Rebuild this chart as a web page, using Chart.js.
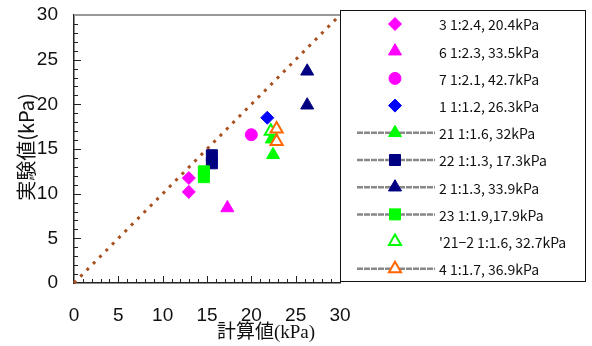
<!DOCTYPE html>
<html>
<head>
<meta charset="utf-8">
<script src="https://cdn.jsdelivr.net/npm/chart.js"></script>
<style>
  body { margin: 0; background: #fff; }
  #wrap { width: 592px; height: 346px; }
</style>
</head>
<body>
<div id="wrap"><canvas id="chart" width="592" height="346"></canvas></div>
<script>
// series labels (legend order)
const seriesLabels = [
  "3 1:2.4, 20.4kPa",
  "6 1:2.3, 33.5kPa",
  "7 1:2.1, 42.7kPa",
  "1 1:1.2, 26.3kPa",
  "21 1:1.6, 32kPa",
  "22 1:1.3, 17.3kPa",
  "2 1:1.3, 33.9kPa",
  "23 1:1.9,17.9kPa",
  "'21\u22122 1:1.6, 32.7kPa",
  "4 1:1.7, 36.9kPa",
];

// calculated (x) / measured (y) values in kPa
const s3X = [12.95, 12.95],  s3Y = [11.75, 10.2];
const s6X = [17.3],          s6Y = [8.4];
const s7X = [20.0],          s7Y = [16.6];
const s1X = [21.8],          s1Y = [18.5];
const s21X = [22.3, 22.45],  s21Y = [16.1, 14.35];
const s22X = [15.55, 15.55], s22Y = [14.3, 13.4];
const s2X = [26.3, 26.3],    s2Y = [23.7, 19.9];
const s23X = [14.65, 14.65], s23Y = [12.5, 11.85];
const s212X = [22.2],        s212Y = [17.0];
const s4X = [22.85, 22.85],  s4Y = [17.25, 15.85];

// 1:1 reference line
const lineX = [0, 30], lineY = [0, 30];

const xTicks = [0, 5, 10, 15, 20, 25, 30];
const yTicks = [0, 5, 10, 15, 20, 25, 30];

function pts(xs, ys) {
  return xs.map((x, i) => ({ x: x, y: ys[i] }));
}

const seriesData = [
  pts(s3X, s3Y), pts(s6X, s6Y), pts(s7X, s7Y), pts(s1X, s1Y),
  pts(s21X, s21Y), pts(s22X, s22Y), pts(s2X, s2Y), pts(s23X, s23Y),
  pts(s212X, s212Y), pts(s4X, s4Y),
];

const seriesStyles = [
  { style: "rectRot",  r: 6.5, fill: "#ff00ff", stroke: "#ff00ff", bw: 1, line: false },
  { style: "triangle", r: 7.5, fill: "#ff00ff", stroke: "#ff00ff", bw: 1, line: false },
  { style: "circle",   r: 6,   fill: "#ff00ff", stroke: "#ff00ff", bw: 1, line: false },
  { style: "rectRot",  r: 6.5, fill: "#0000ff", stroke: "#0000ff", bw: 1, line: false },
  { style: "triangle", r: 7.5, fill: "#00ff00", stroke: "#00ff00", bw: 1, line: true },
  { style: "rect",     r: 7.8, fill: "#000080", stroke: "#000080", bw: 1, line: true },
  { style: "triangle", r: 7.5, fill: "#000080", stroke: "#000080", bw: 1, line: true },
  { style: "rect",     r: 7.8, fill: "#00ff00", stroke: "#00ff00", bw: 1, line: true },
  { style: "triangle", r: 7,   fill: "#ffffff", stroke: "#00ff00", bw: 2, line: false },
  { style: "triangle", r: 7,   fill: "#ffffff", stroke: "#ff6600", bw: 2, line: true },
];

const datasets = seriesLabels.map((label, i) => {
  const st = seriesStyles[i];
  return {
    label: label,
    data: seriesData[i],
    pointStyle: st.style,
    pointRadius: st.r,
    pointHoverRadius: st.r,
    backgroundColor: st.fill,
    borderColor: st.stroke,
    borderWidth: st.bw,
    showLine: false,
    order: seriesLabels.length - i,
    legendLine: st.line,
  };
});

datasets.push({
  label: "1:1",
  data: pts(lineX, lineY),
  showLine: true,
  borderColor: "#a8501e",
  borderWidth: 3,
  borderDash: [3, 6],
  pointRadius: 0,
  clip: false,
  order: 100,
  hideInLegend: true,
});

const AXIS_COLOR = "#222";

const decorations = {
  id: "decorations",
  afterDraw(chart) {
    const ctx = chart.ctx;
    const area = chart.chartArea;
    const xs = chart.scales.x, ys = chart.scales.y;
    ctx.save();

    // top border of plot
    ctx.strokeStyle = "#999";
    ctx.lineWidth = 2;
    ctx.beginPath();
    ctx.moveTo(area.left, area.top);
    ctx.lineTo(area.right, area.top);
    ctx.stroke();

    // inner ticks every 1 kPa
    ctx.strokeStyle = AXIS_COLOR;
    ctx.lineWidth = 1;
    for (let v = 1; v < 30; v++) {
      const len = v % 5 === 0 ? 7 : 4;
      const px = Math.round(xs.getPixelForValue(v)) + 0.5;
      ctx.beginPath();
      ctx.moveTo(px, area.bottom);
      ctx.lineTo(px, area.bottom - len);
      ctx.stroke();
      const py = Math.round(ys.getPixelForValue(v)) + 0.5;
      ctx.beginPath();
      ctx.moveTo(area.left, py);
      ctx.lineTo(area.left + len, py);
      ctx.stroke();
    }

    // axis titles
    ctx.fillStyle = "#111";
    ctx.textAlign = "center";
    ctx.textBaseline = "middle";
    ctx.font = '19px "Liberation Serif", "Noto Sans CJK JP"';
    ctx.fillText("計算値(kPa)", 266, 333);
    ctx.save();
    ctx.translate(26, 147);
    ctx.rotate(-Math.PI / 2);
    ctx.font = '20px "Noto Sans CJK JP"';
    ctx.fillText("実験値(kPa)", 0, 0);
    ctx.restore();

    // legend box
    const bx = 340.5, by = 10.5, bw = 245, bh = 271;
    ctx.fillStyle = "#fff";
    ctx.fillRect(bx, by, bw, bh);
    ctx.strokeStyle = "#111";
    ctx.lineWidth = 1;
    ctx.strokeRect(bx, by, bw, bh);

    const items = chart.data.datasets.filter(d => !d.hideInLegend);
    items.forEach((d, i) => {
      const cy = 24 + i * 27.2;
      const mx = 395;
      if (d.legendLine) {
        ctx.save();
        ctx.strokeStyle = "#888";
        ctx.lineWidth = 2.5;
        ctx.setLineDash([6, 1]);
        ctx.beginPath();
        ctx.moveTo(357, cy);
        ctx.lineTo(435, cy);
        ctx.stroke();
        ctx.restore();
      }
      ctx.save();
      ctx.fillStyle = d.backgroundColor;
      ctx.strokeStyle = d.borderColor;
      ctx.lineWidth = d.borderWidth;
      Chart.helpers.drawPoint(ctx, {
        pointStyle: d.pointStyle,
        radius: d.pointRadius,
        rotation: 0,
        borderWidth: d.borderWidth,
      }, mx, cy);
      ctx.restore();
      ctx.fillStyle = "#111";
      ctx.textAlign = "left";
      ctx.textBaseline = "middle";
      ctx.font = '14px "Noto Sans CJK JP"';
      ctx.fillText(d.label, 439, cy + 1);
    });
    ctx.restore();
  },
};

new Chart(document.getElementById("chart"), {
  type: "scatter",
  data: { datasets: datasets },
  options: {
    responsive: false,
    animation: false,
    layout: { padding: { top: 15, right: 252, left: 0, bottom: 0 } },
    plugins: {
      legend: { display: false },
      tooltip: { enabled: false },
      title: { display: false },
    },
    scales: {
      x: {
        type: "linear",
        min: 0,
        max: 30,
        afterBuildTicks: (axis) => { axis.ticks = xTicks.map(v => ({ value: v })); },
        afterFit: (axis) => { axis.height = 63; },
        ticks: {
          padding: 21,
          color: "#111",
          font: { family: "Liberation Sans", size: 19 },
        },
        grid: { drawOnChartArea: false, drawTicks: false },
        border: { color: AXIS_COLOR, width: 1.5 },
      },
      y: {
        type: "linear",
        min: 0,
        max: 30,
        afterBuildTicks: (axis) => { axis.ticks = yTicks.map(v => ({ value: v })); },
        afterFit: (axis) => { axis.width = 74; },
        ticks: {
          padding: 0,
          color: "#111",
          font: { family: "Liberation Sans", size: 19 },
        },
        grid: {
          drawOnChartArea: false,
          drawTicks: true,
          tickLength: 16,
          tickColor: "rgba(0,0,0,0)",
        },
        border: { color: AXIS_COLOR, width: 1.5 },
      },
    },
  },
  plugins: [decorations],
});
</script>
</body>
</html>
